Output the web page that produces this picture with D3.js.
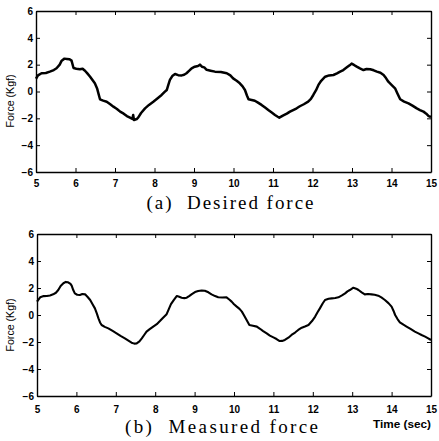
<!DOCTYPE html>
<html>
<head>
<meta charset="utf-8">
<script src="https://cdn.jsdelivr.net/npm/d3@7"></script>
<style>
  html, body { margin: 0; padding: 0; background: #fff; }
  svg { display: block; }
  .tick text { font-family: "Liberation Sans", Arial, sans-serif; font-weight: bold; font-size: 10px; fill: #000; }
  .tick line, .domain { stroke: #000; }
</style>
</head>
<body>
<svg id="chart" width="439" height="441"></svg>
<script>
// Time axis ticks and force axis ticks
const timeTicks = [5, 6, 7, 8, 9, 10, 11, 12, 13, 14, 15];
const forceTicks = [-6, -4, -2, 0, 2, 4, 6];

// (a) desired force, Kgf, against time in seconds
const desiredTime = [5.00,5.05,5.14,5.25,5.35,5.45,5.52,5.60,5.65,5.72,5.78,5.85,5.90,5.95,6.02,6.11,6.18,6.24,6.30,6.37,6.43,6.49,6.55,6.58,6.62,6.70,6.79,6.88,6.96,7.05,7.13,7.22,7.30,7.38,7.44,7.46,7.48,7.55,7.59,7.66,7.76,7.86,7.97,8.08,8.18,8.25,8.31,8.35,8.39,8.45,8.52,8.60,8.69,8.75,8.81,8.88,8.94,9.02,9.10,9.15,9.20,9.26,9.32,9.42,9.53,9.68,9.83,9.92,9.99,10.08,10.16,10.23,10.29,10.34,10.38,10.46,10.54,10.62,10.71,10.80,10.88,10.96,11.05,11.12,11.16,11.25,11.35,11.43,11.51,11.60,11.68,11.78,11.89,11.96,12.02,12.09,12.15,12.22,12.32,12.42,12.53,12.62,12.70,12.78,12.87,12.94,12.99,13.05,13.12,13.20,13.29,13.37,13.46,13.55,13.63,13.72,13.80,13.86,13.92,14.00,14.09,14.15,14.22,14.32,14.43,14.53,14.64,14.72,14.81,14.88,14.94,15.00];
const desiredForce = [0.95,1.20,1.36,1.38,1.48,1.60,1.73,2.00,2.30,2.45,2.43,2.40,2.30,1.75,1.70,1.66,1.70,1.55,1.35,1.10,0.85,0.61,0.20,-0.14,-0.58,-0.68,-0.76,-0.95,-1.13,-1.30,-1.50,-1.65,-1.83,-1.95,-2.05,-1.75,-2.12,-2.05,-1.93,-1.60,-1.26,-1.00,-0.76,-0.50,-0.26,-0.05,0.11,0.50,0.86,1.15,1.30,1.22,1.20,1.25,1.36,1.55,1.73,1.85,1.90,2.00,1.85,1.80,1.62,1.55,1.48,1.45,1.36,1.20,0.98,0.80,0.61,0.38,0.11,-0.30,-0.58,-0.63,-0.69,-0.83,-1.00,-1.20,-1.38,-1.55,-1.75,-1.88,-1.95,-1.80,-1.65,-1.50,-1.38,-1.25,-1.10,-0.95,-0.76,-0.55,-0.26,0.10,0.49,0.80,1.10,1.20,1.23,1.35,1.48,1.60,1.80,1.95,2.08,1.98,1.85,1.72,1.60,1.68,1.66,1.58,1.48,1.40,1.23,1.00,0.73,0.50,0.24,-0.15,-0.58,-0.75,-0.88,-1.05,-1.26,-1.38,-1.50,-1.65,-1.83,-1.90];

// (b) measured force, Kgf, against time in seconds
const measuredTime = [5.00,5.08,5.17,5.25,5.33,5.41,5.48,5.54,5.60,5.67,5.73,5.79,5.85,5.88,5.92,5.96,6.02,6.09,6.15,6.22,6.28,6.35,6.41,6.47,6.52,6.56,6.60,6.64,6.72,6.81,6.92,7.02,7.12,7.23,7.32,7.40,7.47,7.53,7.60,7.66,7.72,7.78,7.86,7.95,8.04,8.12,8.20,8.29,8.34,8.40,8.47,8.55,8.61,8.67,8.74,8.80,8.87,8.93,9.01,9.09,9.18,9.26,9.35,9.43,9.52,9.60,9.70,9.81,9.88,9.94,10.00,10.07,10.14,10.20,10.26,10.32,10.39,10.48,10.58,10.66,10.74,10.83,10.91,11.00,11.08,11.16,11.22,11.29,11.38,11.46,11.55,11.63,11.72,11.80,11.89,11.98,12.06,12.12,12.18,12.25,12.31,12.40,12.48,12.57,12.65,12.74,12.82,12.88,12.94,13.03,13.10,13.16,13.24,13.32,13.40,13.49,13.57,13.66,13.74,13.83,13.92,14.00,14.05,14.09,14.15,14.21,14.30,14.38,14.48,14.59,14.68,14.76,14.85,14.93,15.00];
const measuredForce = [0.99,1.31,1.40,1.41,1.45,1.53,1.65,1.85,2.15,2.35,2.45,2.42,2.30,2.17,1.85,1.60,1.50,1.48,1.55,1.53,1.35,1.11,0.80,0.49,0.10,-0.25,-0.55,-0.74,-0.88,-0.99,-1.18,-1.36,-1.55,-1.73,-1.90,-2.05,-2.12,-2.10,-1.95,-1.73,-1.48,-1.23,-1.05,-0.86,-0.68,-0.45,-0.20,0.06,0.40,0.80,1.10,1.41,1.35,1.28,1.25,1.28,1.42,1.55,1.70,1.78,1.82,1.80,1.68,1.53,1.40,1.31,1.30,1.31,1.15,0.99,0.80,0.62,0.45,0.25,-0.05,-0.37,-0.74,-0.80,-0.86,-1.02,-1.19,-1.36,-1.53,-1.66,-1.78,-1.93,-1.92,-1.85,-1.68,-1.48,-1.30,-1.11,-0.94,-0.85,-0.74,-0.45,-0.12,0.20,0.49,0.85,1.11,1.20,1.23,1.26,1.31,1.45,1.60,1.75,1.85,2.02,1.95,1.85,1.68,1.53,1.55,1.53,1.50,1.43,1.30,1.11,0.88,0.62,0.30,0.00,-0.30,-0.54,-0.72,-0.86,-1.03,-1.23,-1.36,-1.48,-1.60,-1.73,-1.85];

const svg = d3.select("#chart");

function panel(opts) {
  const { left, right, top, bottom, times, forces, lineWidth, caption, captionX, captionY, captionLen, labelY, xPad } = opts;
  const x = d3.scaleLinear().domain([5, 15]).range([left, right]);
  const y = d3.scaleLinear().domain([-6, 6]).range([bottom, top]);
  const g = svg.append("g");

  // inward ticks on all four sides
  g.append("g").attr("transform", `translate(0,${bottom})`)
    .call(d3.axisBottom(x).tickValues(timeTicks).tickSizeInner(-4).tickSizeOuter(0).tickPadding(xPad).tickFormat(d3.format("d")));
  g.append("g").attr("transform", `translate(0,${top})`)
    .call(d3.axisTop(x).tickValues(timeTicks).tickSizeInner(-4).tickSizeOuter(0).tickFormat(""));
  g.append("g").attr("transform", `translate(${left},0)`)
    .call(d3.axisLeft(y).tickValues(forceTicks).tickSizeInner(-4).tickSizeOuter(0).tickPadding(3).tickFormat(d3.format("d")));
  g.append("g").attr("transform", `translate(${right},0)`)
    .call(d3.axisRight(y).tickValues(forceTicks).tickSizeInner(-4).tickSizeOuter(0).tickFormat(""));
  g.selectAll(".domain").attr("stroke-width", 1.4);

  const pts = times.map((t, i) => [t, forces[i]]);
  g.append("path")
    .datum(pts)
    .attr("fill", "none")
    .attr("stroke", "#000")
    .attr("stroke-width", lineWidth)
    .attr("stroke-linejoin", "round")
    .attr("d", d3.line().x(d => x(d[0])).y(d => y(d[1])));

  g.append("text")
    .attr("transform", `translate(14,${labelY}) rotate(-90)`)
    .attr("text-anchor", "middle")
    .attr("textLength", 53)
    .attr("lengthAdjust", "spacingAndGlyphs")
    .style("font-family", "'Liberation Sans', Arial, sans-serif")
    .style("font-size", "10.5px")
    .text("Force (Kgf)");

  g.append("text")
    .attr("x", captionX).attr("y", captionY)
    .attr("textLength", captionLen)
    .attr("lengthAdjust", "spacing")
    .style("white-space", "pre")
    .style("font-family", "'Liberation Serif', 'Times New Roman', serif")
    .style("font-size", "19px")
    .text(caption);
}

panel({ left: 36, right: 431, top: 11, bottom: 172, times: desiredTime, forces: desiredForce,
  lineWidth: 2.5, caption: "(a)  Desired force", captionX: 146.5, captionY: 209, captionLen: 167, labelY: 101, xPad: 8 });
panel({ left: 37, right: 431, top: 234, bottom: 396, times: measuredTime, forces: measuredForce,
  lineWidth: 2.1, caption: "(b)  Measured force", captionX: 125, captionY: 433, captionLen: 193, labelY: 325, xPad: 9.5 });

svg.append("text")
  .attr("x", 373).attr("y", 428)
  .attr("textLength", 58)
  .attr("lengthAdjust", "spacingAndGlyphs")
  .style("font-family", "'Liberation Sans', Arial, sans-serif")
  .style("font-weight", "bold")
  .style("font-size", "10.5px")
  .text("Time (sec)");
</script>
</body>
</html>
